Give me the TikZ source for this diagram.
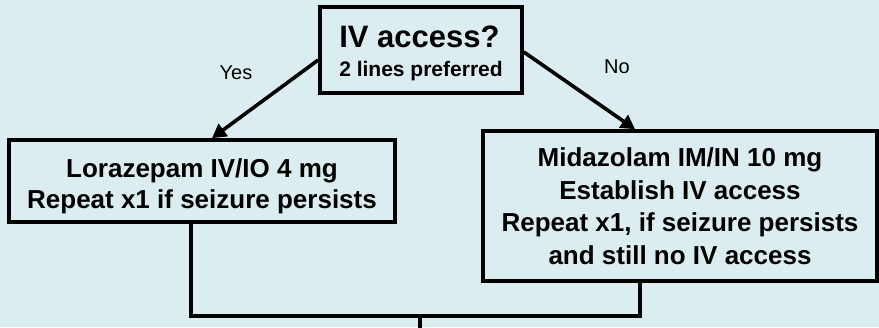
\documentclass[tikz,border=0pt]{standalone}
\usepackage{fontspec}
\setmainfont{Liberation Sans}
\usetikzlibrary{arrows.meta,calc}
\definecolor{bgc}{RGB}{219,237,240}
\begin{document}
\begin{tikzpicture}[x=1pt,y=-1pt,
  box/.style={draw=black, line width=3.6pt, fill=bgc, rectangle, inner sep=0pt, align=center, font=\bfseries},
  conn/.style={line width=3.6pt, line join=miter},
  arr/.style={conn, -{Triangle[length=14pt,width=15pt]}},
  lbl/.style={font=\fontsize{20}{24}\selectfont, inner sep=0pt}]
\fill[bgc] (0,0) rectangle (879,327);
\useasboundingbox (0,0) rectangle (879,327);
\node[box, minimum width=202pt, minimum height=86pt, align=left, font=\bfseries\fontsize{21}{29}\selectfont] (top) at (421,50)
  {\rule{0pt}{28pt}{\fontsize{31}{31}\selectfont IV access?}\\2 lines preferred};
\node[box, minimum width=386pt, minimum height=82pt, font=\bfseries\fontsize{26}{31}\selectfont] (lbox) at (202,181)
  {\rule{0pt}{29pt}Lorazepam IV/IO 4 mg\\Repeat x1 if seizure persists};
\node[box, minimum width=394pt, minimum height=150pt, font=\bfseries\fontsize{26}{32.5}\selectfont] (rbox) at (680,206)
  {Midazolam IM/IN 10 mg\\Establish IV access\\Repeat x1, if seizure persists\\and still no IV access};
\node[lbl] (yes) at (236,73) {Yes};
\node[lbl] (no) at (617,67) {No};
\coordinate (jl) at (191,316);
\coordinate (jr) at (640,316);
\coordinate (jm) at (420,316);
\coordinate (out) at (420,330);
\draw[arr] ($(top.west)+(0,10)$) -- ($(lbox.north)+(10,0)$);
\draw[arr] ($(top.east)+(0,2)$) -- ($(rbox.north)+(-45,0)$);
\draw[conn] ($(lbox.south)+(-11,0)$) -- (jl) -- (jr) -- ($(rbox.south)+(-40,0)$);
\draw[conn] (jm) -- (out);
\end{tikzpicture}
\end{document}
